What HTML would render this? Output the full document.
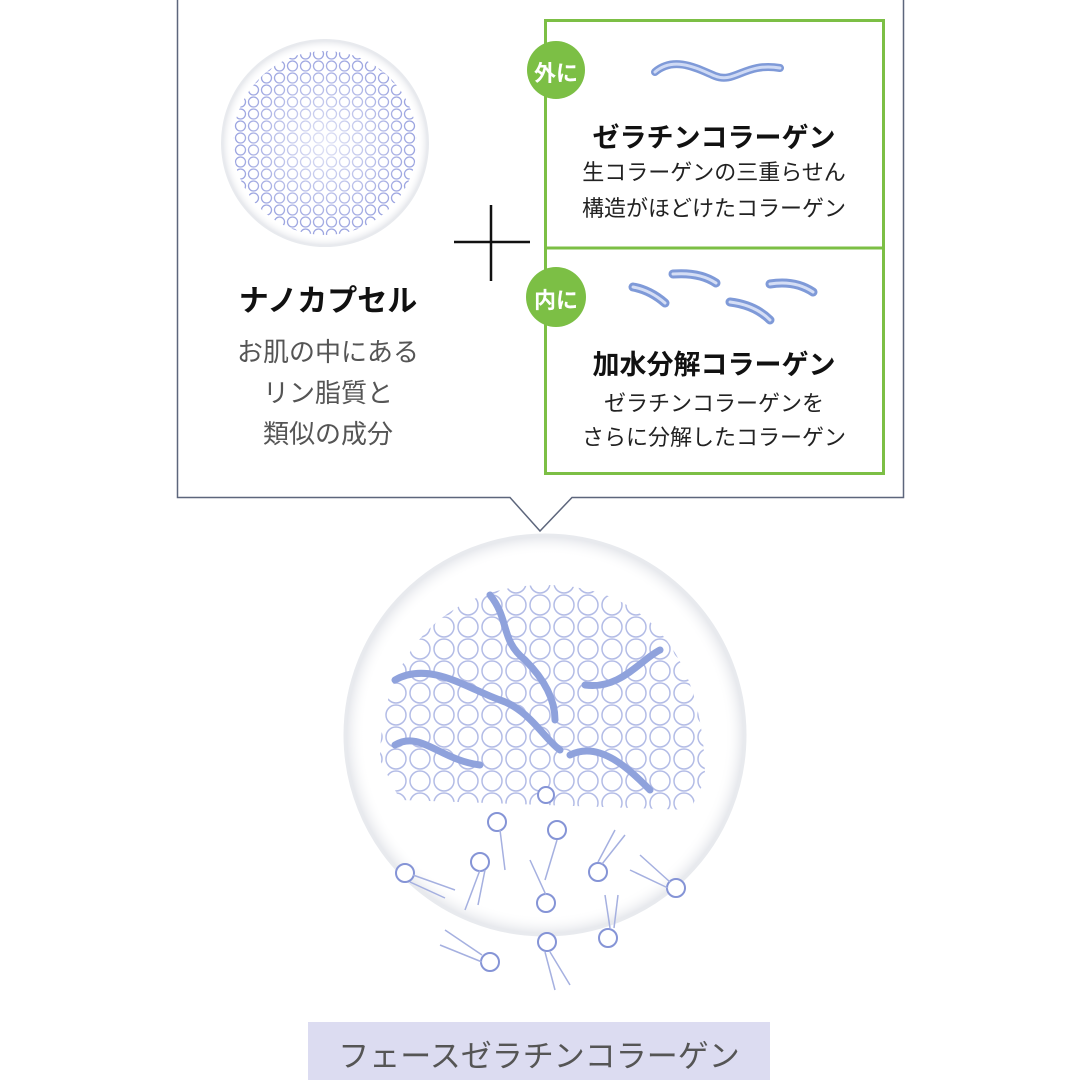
<!DOCTYPE html>
<html><head><meta charset="utf-8"><style>
html,body{margin:0;padding:0;background:#fff;}
body{width:1080px;height:1080px;position:relative;overflow:hidden;font-family:"Liberation Sans","Noto Sans CJK JP",sans-serif;}
.t{position:absolute;text-align:center;white-space:nowrap;}
</style></head><body>
<svg width="1080" height="1080" style="position:absolute;left:0;top:0">
<defs>
<pattern id="dots" width="13" height="12" patternUnits="userSpaceOnUse">
<circle cx="6.5" cy="6" r="5" fill="#fff" stroke="#9aa3e0" stroke-width="1.3"/>
</pattern>
<pattern id="big" width="24" height="22" patternUnits="userSpaceOnUse">
<circle cx="12" cy="11" r="10" fill="#fff" stroke="#b3bce6" stroke-width="1.5"/>
</pattern>
<radialGradient id="glass" cx="50%" cy="50%" r="50%">
<stop offset="90%" stop-color="#fff" stop-opacity="0"/>
<stop offset="100%" stop-color="#e3e5ea"/>
</radialGradient>
<radialGradient id="fade" cx="50%" cy="50%" r="50%">
<stop offset="0%" stop-color="#fff" stop-opacity="0.7"/>
<stop offset="100%" stop-color="#fff" stop-opacity="0"/>
</radialGradient>
</defs>
<path d="M177.5 0 V497.5 H510 L540 531 L572 497.5 H903.5 V0" fill="#fff" stroke="#5d667c" stroke-width="1.5"/>
<rect x="545.5" y="20.5" width="338" height="453" fill="none" stroke="#7cbf45" stroke-width="3"/>
<line x1="545" y1="248" x2="884" y2="248" stroke="#7cbf45" stroke-width="3"/>
<circle cx="556" cy="70" r="29" fill="#7cbf45"/>
<circle cx="556" cy="297" r="30" fill="#7cbf45"/>
<line x1="454" y1="242" x2="530" y2="242" stroke="#111" stroke-width="2.5"/>
<line x1="491" y1="205" x2="491" y2="281" stroke="#111" stroke-width="2.5"/>
<circle cx="325" cy="143" r="103" fill="url(#glass)" stroke="#e8eaee" stroke-width="2"/>
<circle cx="325" cy="143" r="92" fill="url(#dots)"/>
<circle cx="325" cy="143" r="92" fill="url(#fade)"/>
<path d="M655 72 C675 55,700 70,715 76 C735 84,745 62,780 68" fill="none" stroke="#7f9ad8" stroke-width="8" stroke-linecap="round"/>
<path d="M655 72 C675 55,700 70,715 76 C735 84,745 62,780 68" fill="none" stroke="#cfdaf5" stroke-width="3" stroke-linecap="round"/>
<g stroke="#7f9ad8" stroke-width="9" stroke-linecap="round" fill="none">
<path d="M633 287 Q650 290 665 303"/><path d="M673 274 Q700 272 716 283"/>
<path d="M730 302 Q755 305 770 320"/><path d="M770 284 Q795 280 813 292"/>
</g>
<g stroke="#d5def5" stroke-width="3" stroke-linecap="round" fill="none">
<path d="M633 287 Q650 290 665 303"/><path d="M673 274 Q700 272 716 283"/>
<path d="M730 302 Q755 305 770 320"/><path d="M770 284 Q795 280 813 292"/>
</g>
<circle cx="545" cy="735" r="200" fill="url(#glass)" stroke="#e8eaee" stroke-width="3"/>
<path d="M380 760 C380 650,450 585,545 585 C650 585,705 660,705 780 L690 810 L400 800 Z" fill="url(#big)"/>
<g fill="none" stroke="#8fa2dc" stroke-width="7" stroke-linecap="round">
<path d="M395 680 C430 660,470 690,500 700 C530 710,545 740,560 750"/>
<path d="M490 595 C510 620,500 640,525 660 C545 680,555 700,555 720"/>
<path d="M585 685 C620 690,640 660,660 650"/>
<path d="M395 745 C420 730,440 760,480 765"/>
<path d="M570 755 C600 740,630 770,650 790"/>
</g>
<g fill="#fff" stroke="#8594d6" stroke-width="2">
<circle cx="546" cy="795" r="8"/><circle cx="497" cy="822" r="9"/><circle cx="557" cy="830" r="9"/>
<circle cx="480" cy="862" r="9"/><circle cx="598" cy="872" r="9"/><circle cx="405" cy="873" r="9"/>
<circle cx="676" cy="888" r="9"/><circle cx="546" cy="903" r="9"/><circle cx="608" cy="938" r="9"/>
<circle cx="547" cy="942" r="9"/><circle cx="490" cy="962" r="9"/>
</g>
<g stroke="#a5b0e0" stroke-width="1.5">
<line x1="413" y1="875" x2="455" y2="890"/><line x1="410" y1="882" x2="445" y2="898"/>
<line x1="480" y1="870" x2="465" y2="910"/><line x1="485" y1="870" x2="478" y2="905"/>
<line x1="598" y1="862" x2="615" y2="830"/><line x1="602" y1="864" x2="625" y2="835"/>
<line x1="670" y1="882" x2="640" y2="855"/><line x1="668" y1="888" x2="630" y2="870"/>
<line x1="610" y1="928" x2="605" y2="895"/><line x1="614" y1="928" x2="618" y2="895"/>
<line x1="545" y1="952" x2="555" y2="990"/><line x1="550" y1="952" x2="570" y2="985"/>
<line x1="482" y1="955" x2="445" y2="930"/><line x1="482" y1="962" x2="440" y2="945"/>
<line x1="546" y1="895" x2="530" y2="860"/><line x1="500" y1="830" x2="505" y2="870"/>
<line x1="557" y1="840" x2="545" y2="880"/>
</g>
<rect x="308" y="1022" width="462" height="58" fill="#dcdcf1"/>
</svg>
<div class="t" style="left:528px;top:56px;width:56px;font-size:22px;color:#fff;font-weight:bold">外に</div>
<div class="t" style="left:528px;top:283px;width:56px;font-size:22px;color:#fff;font-weight:bold">内に</div>
<div class="t" style="left:178px;top:276px;width:300px;font-size:30px;font-weight:bold;color:#111">ナノカプセル</div>
<div class="t" style="left:178px;top:332px;width:300px;font-size:26px;line-height:41px;color:#555">お肌の中にある<br>リン脂質と<br>類似の成分</div>
<div class="t" style="left:545px;top:116px;width:338px;font-size:27px;font-weight:bold;color:#111">ゼラチンコラーゲン</div>
<div class="t" style="left:545px;top:155px;width:338px;font-size:22px;line-height:36px;color:#222">生コラーゲンの三重らせん<br>構造がほどけたコラーゲン</div>
<div class="t" style="left:545px;top:343px;width:338px;font-size:27px;font-weight:bold;color:#111">加水分解コラーゲン</div>
<div class="t" style="left:545px;top:387px;width:338px;font-size:22px;line-height:34px;color:#222">ゼラチンコラーゲンを<br>さらに分解したコラーゲン</div>
<div class="t" style="left:308px;top:1031px;width:462px;font-size:31px;color:#555">フェースゼラチンコラーゲン</div>
</body></html>
